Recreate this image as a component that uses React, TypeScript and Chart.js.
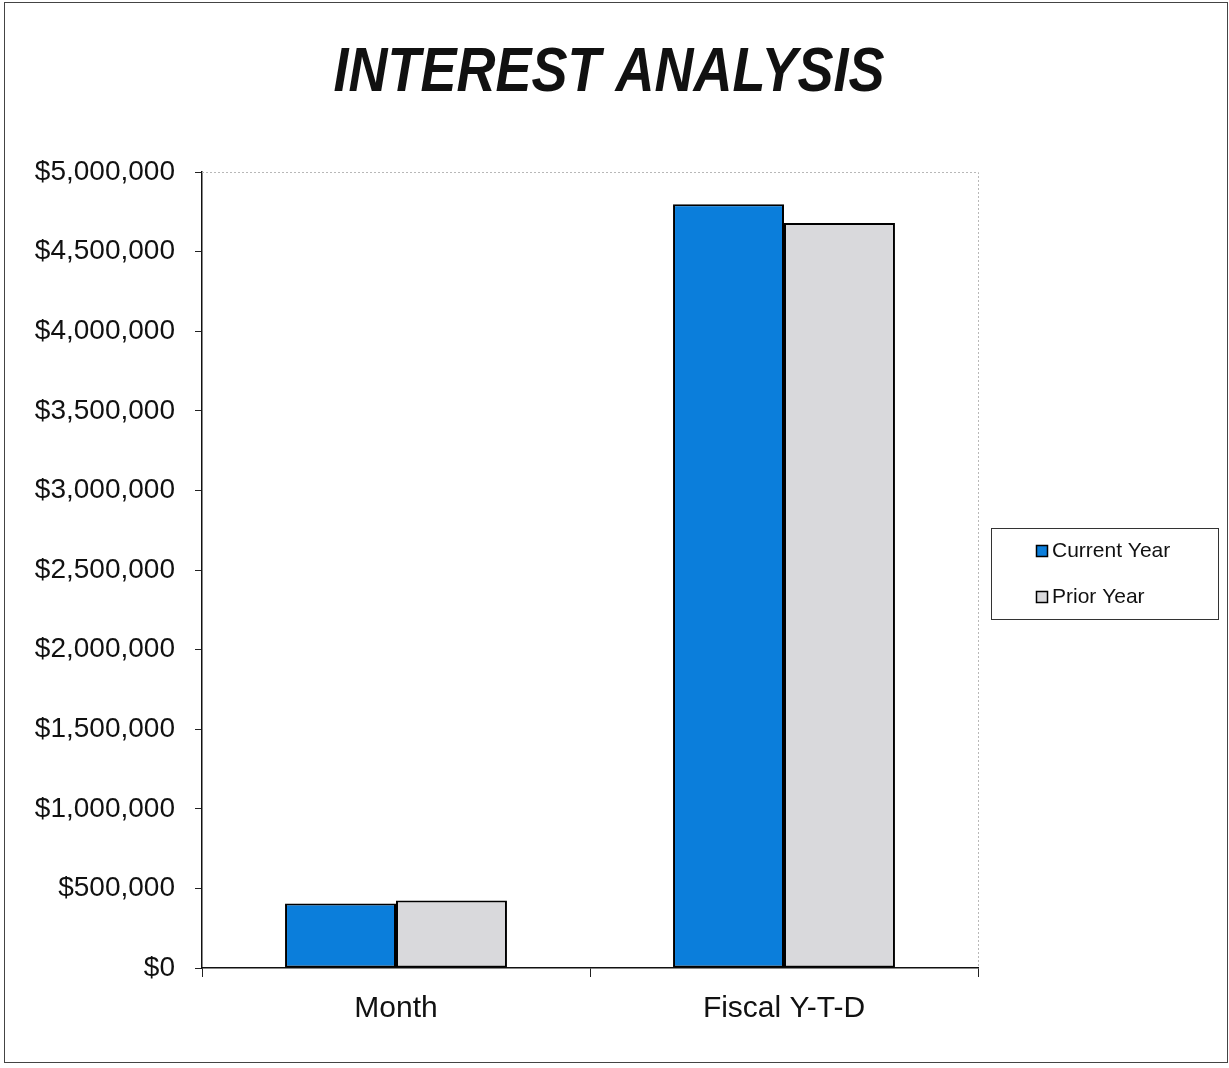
import React, { useEffect, useRef } from "react";
import { Chart, registerables } from "chart.js";

Chart.register(...registerables);

const TITLE = "INTEREST ANALYSIS";
const CATEGORIES = ["Month", "Fiscal Y-T-D"];
const SERIES_NAMES = ["Current Year", "Prior Year"];
const CURRENT_YEAR = [405000, 4797000];
const PRIOR_YEAR = [424000, 4680000];
const Y_MIN = 0;
const Y_MAX = 5000000;
const Y_STEP = 500000;

const BLUE = "#0b7edb";
const GRAY = "#d9d9dc";
const FONT = '"Liberation Sans", Arial, sans-serif';

const decorPlugin = {
  id: "decor",
  afterDraw(chart: any) {
    const ctx = chart.ctx;
    const area = chart.chartArea;
    ctx.save();
    // outer frame
    ctx.strokeStyle = "#444";
    ctx.lineWidth = 1;
    ctx.strokeRect(4.5, 2.5, 1223, 1060);
    // faint plot border top/right
    ctx.strokeStyle = "#b8b8b8";
    ctx.setLineDash([2, 2]);
    ctx.beginPath();
    ctx.moveTo(area.left, area.top + 0.5);
    ctx.lineTo(area.right + 0.5, area.top + 0.5);
    ctx.lineTo(area.right + 0.5, area.bottom);
    ctx.stroke();
    ctx.setLineDash([]);
    // title
    ctx.fillStyle = "#111";
    ctx.font = `italic bold 54px ${FONT}`;
    ctx.textAlign = "center";
    ctx.textBaseline = "alphabetic";
    ctx.save();
    ctx.translate(609, 91);
    ctx.scale(1, 1.17);
    ctx.fillText(TITLE, 0, 0);
    ctx.restore();
    // legend
    ctx.strokeStyle = "#333";
    ctx.lineWidth = 1;
    ctx.strokeRect(991.5, 528.5, 227, 91);
    ctx.font = `21px ${FONT}`;
    ctx.textAlign = "left";
    ctx.textBaseline = "middle";
    chart.data.datasets.forEach((ds: any, i: number) => {
      const y = 551 + i * 46;
      ctx.fillStyle = ds.backgroundColor;
      ctx.fillRect(1036, y - 6, 12, 12);
      ctx.strokeStyle = "#000";
      ctx.lineWidth = 1.5;
      ctx.strokeRect(1036.5, y - 5.5, 11, 11);
      ctx.fillStyle = "#111";
      ctx.fillText(ds.label, 1052, y);
    });
    ctx.restore();
  },
};

export default function App() {
  const ref = useRef<HTMLCanvasElement>(null);
  useEffect(() => {
    if (!ref.current) return;
    const chart = new Chart(ref.current, {
      type: "bar",
      data: {
        labels: CATEGORIES,
        datasets: [
          {
            label: SERIES_NAMES[0],
            data: CURRENT_YEAR,
            backgroundColor: BLUE,
            borderColor: "#000",
            borderWidth: 2,
            borderSkipped: false,
            categoryPercentage: 0.572,
            barPercentage: 1,
          },
          {
            label: SERIES_NAMES[1],
            data: PRIOR_YEAR,
            backgroundColor: GRAY,
            borderColor: "#000",
            borderWidth: 2,
            borderSkipped: false,
            categoryPercentage: 0.572,
            barPercentage: 1,
          },
        ],
      },
      options: {
        responsive: false,
        animation: false,
        layout: { padding: { left: 0, right: 251, top: 172, bottom: 0 } },
        plugins: {
          legend: { display: false },
          title: { display: false },
          tooltip: { enabled: false },
        },
        scales: {
          x: {
            afterFit: (s: any) => {
              s.height = 100;
            },
            grid: {
              display: true,
              drawOnChartArea: false,
              drawTicks: true,
              tickLength: 9,
              color: "#222",
              offset: true,
            },
            border: { display: true, color: "#111", width: 1.5 },
            ticks: {
              color: "#111",
              padding: 14,
              font: { family: FONT, size: 30 },
            },
          },
          y: {
            min: Y_MIN,
            max: Y_MAX,
            afterFit: (s: any) => {
              s.width = 202;
            },
            grid: {
              display: true,
              drawOnChartArea: false,
              drawTicks: true,
              tickLength: 7,
              color: "#222",
            },
            border: { display: true, color: "#111", width: 1.5 },
            ticks: {
              stepSize: Y_STEP,
              color: "#111",
              padding: 20,
              font: { family: FONT, size: 28 },
              callback: (v: any) => "$" + Number(v).toLocaleString("en-US"),
            },
          },
        },
      },
      plugins: [decorPlugin],
    });
    return () => chart.destroy();
  }, []);
  return (
    <div style={{ position: "absolute", left: 0, top: 0, width: 1229, height: 1068, background: "#fff" }}>
      <canvas ref={ref} width={1229} height={1068} style={{ display: "block" }} />
    </div>
  );
}
